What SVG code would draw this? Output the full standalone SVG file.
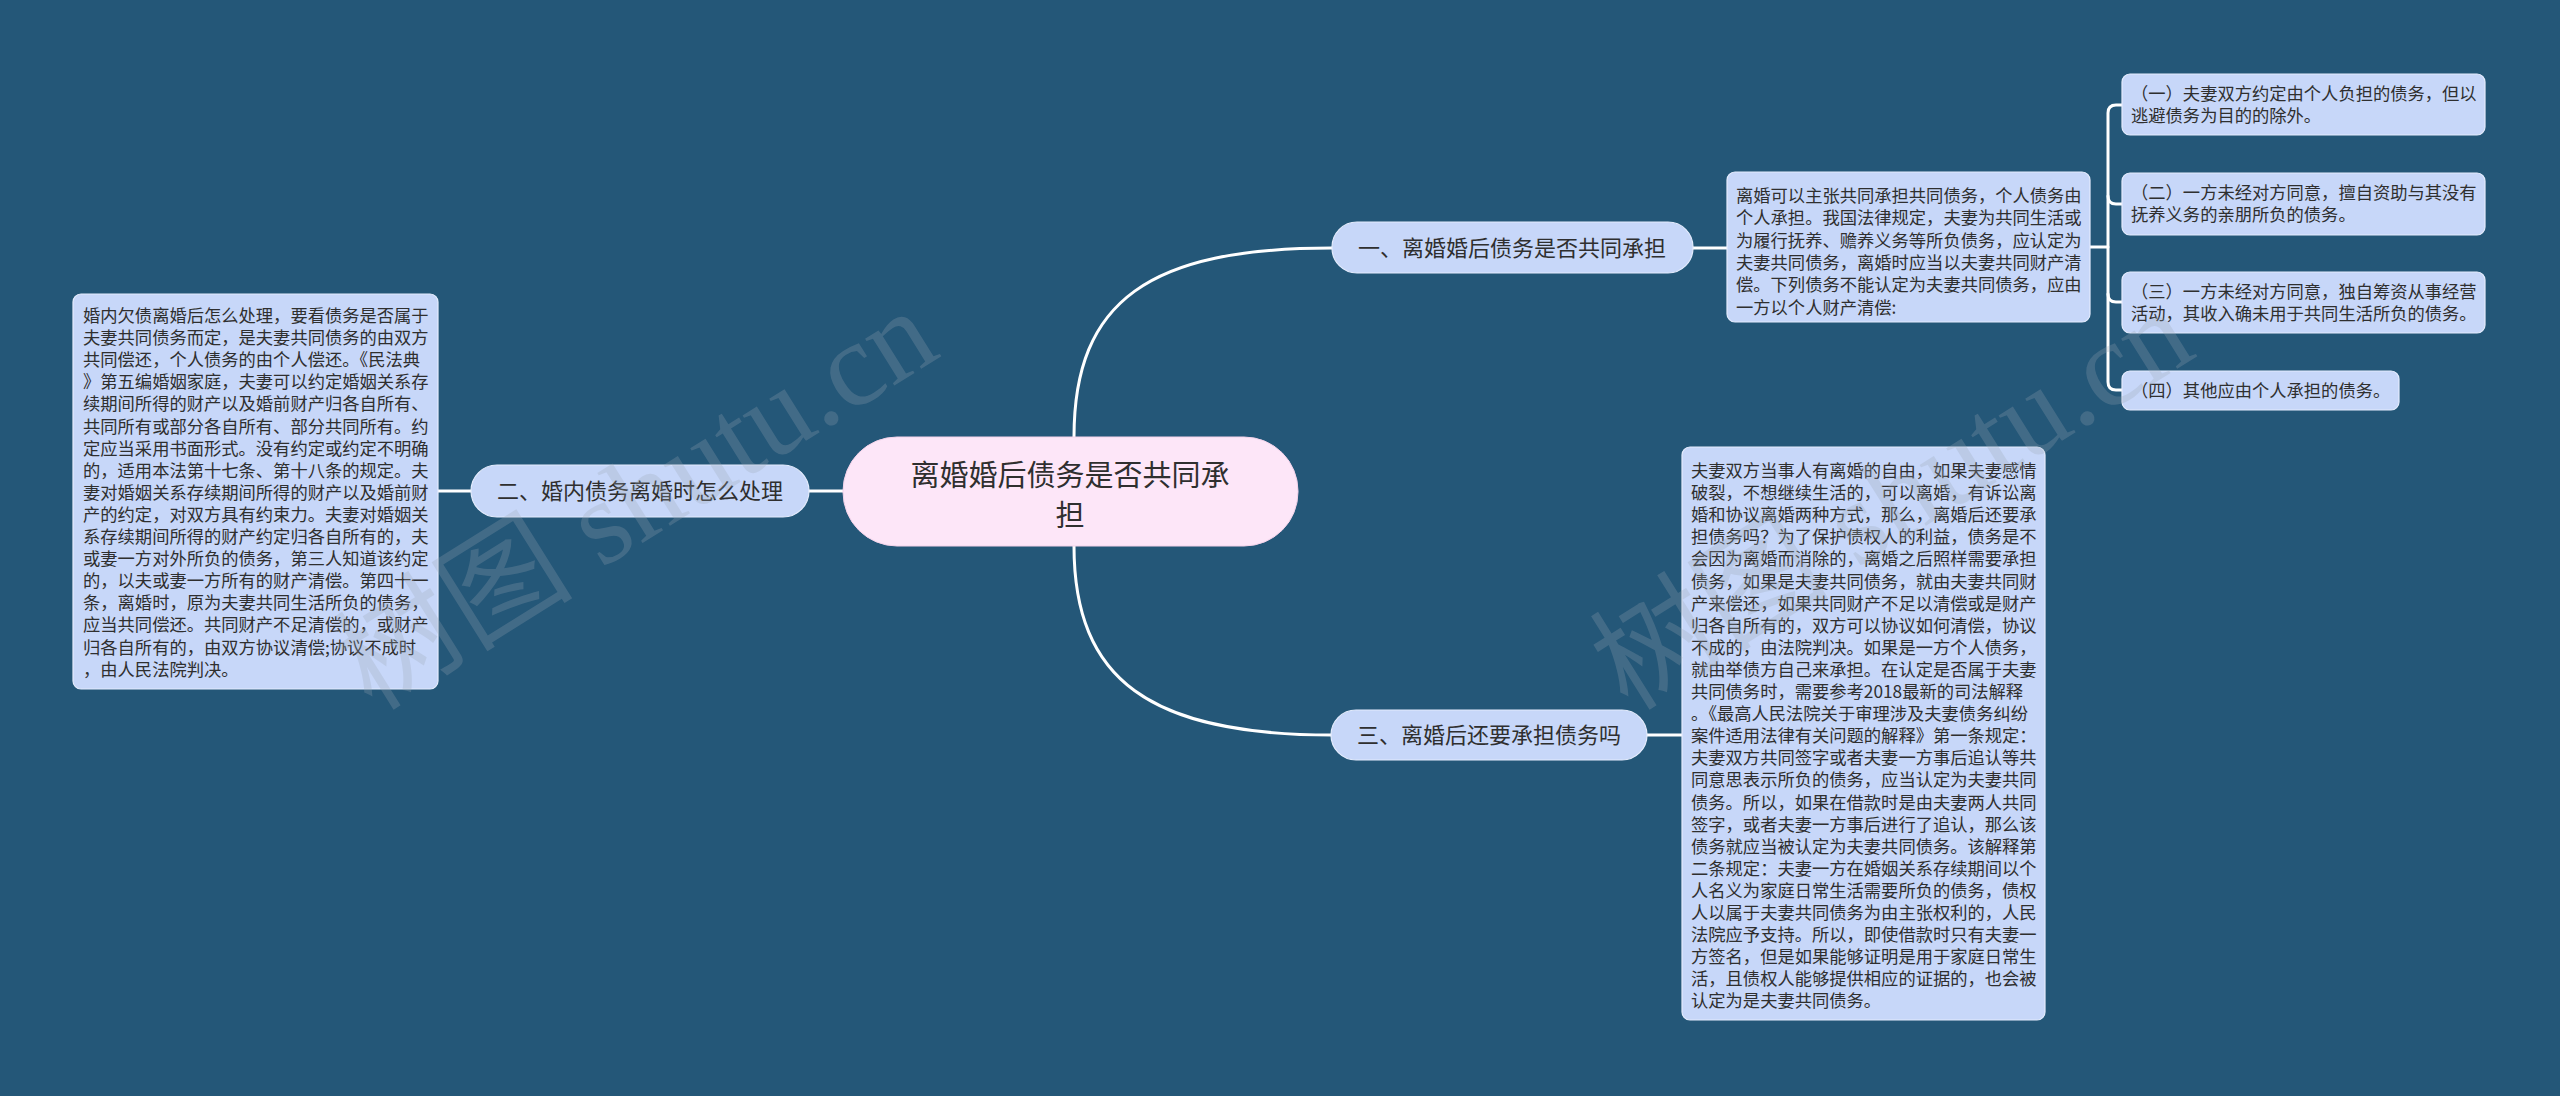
<svg xmlns="http://www.w3.org/2000/svg" width="2560" height="1096" viewBox="0 0 2560 1096">
<style>
.bg{fill:#245778}
.node{fill:#c7d7f9;stroke:#e4ecfd;stroke-width:1.2}
.root{fill:#fde6f8;stroke:#f3d3ea;stroke-width:1}
.conn{fill:none;stroke:#ffffff;stroke-width:3;stroke-linecap:round}
.t{font-family:"Noto Sans CJK SC","Noto Sans",sans-serif;fill:#2f2f2f}
.small{font-size:17.3px}
.mid{font-size:22px;text-anchor:middle}
.big{font-size:29px;text-anchor:middle}
.wm{font-family:"Liberation Serif","Noto Sans CJK SC",serif;font-size:120px;fill:#9aa6b4;opacity:0.26}
</style>
<rect class="bg" x="0" y="0" width="2560" height="1096"/>

<g id="connectors">
  <path class="conn" d="M1074,437 C1074,300 1150,248 1332,248"/>
  <path class="conn" d="M1074,546 C1074,680 1150,735 1332,735"/>
  <path class="conn" d="M843,491 H809"/>
  <path class="conn" d="M471,491 H438"/>
  <path class="conn" d="M1693,248 H1727"/>
  <path class="conn" d="M1647,735 H1682"/>
  <path class="conn" d="M2090,247 H2108"/>
  <path class="conn" d="M2122,105 H2116 Q2108,105 2108,113 V382 Q2108,390 2116,390 H2122"/>
  <path class="conn" d="M2108,196 Q2108,204 2116,204 H2122"/>
  <path class="conn" d="M2108,294 Q2108,302 2116,302 H2122"/>
</g>

<g id="root">
  <rect class="root" x="843" y="437" width="455" height="109" rx="54"/>
  <text class="t big" x="1070" y="486">离婚婚后债务是否共同承</text>
  <text class="t big" x="1070" y="526">担</text>
</g>

<g id="branch1">
  <rect class="node" x="1332" y="222" width="361" height="51" rx="25"/>
  <text class="t mid" x="1512" y="256">一、离婚婚后债务是否共同承担</text>
</g>

<g id="branch2">
  <rect class="node" x="471" y="465" width="338" height="52" rx="26"/>
  <text class="t mid" x="640" y="499">二、婚内债务离婚时怎么处理</text>
</g>

<g id="branch3">
  <rect class="node" x="1331" y="710" width="316" height="50" rx="25"/>
  <text class="t mid" x="1489" y="743">三、离婚后还要承担债务吗</text>
</g>

<g id="leftText">
  <rect class="node" x="73" y="294" width="365" height="395" rx="8"/>
  <text class="t small" x="83" y="322">
    <tspan x="83">婚内欠债离婚后怎么处理，要看债务是否属于</tspan>
    <tspan x="83" dy="22.1">夫妻共同债务而定，是夫妻共同债务的由双方</tspan>
    <tspan x="83" dy="22.1">共同偿还，个人债务的由个人偿还。《民法典</tspan>
    <tspan x="83" dy="22.1">》第五编婚姻家庭，夫妻可以约定婚姻关系存</tspan>
    <tspan x="83" dy="22.1">续期间所得的财产以及婚前财产归各自所有、</tspan>
    <tspan x="83" dy="22.1">共同所有或部分各自所有、部分共同所有。约</tspan>
    <tspan x="83" dy="22.1">定应当采用书面形式。没有约定或约定不明确</tspan>
    <tspan x="83" dy="22.1">的，适用本法第十七条、第十八条的规定。夫</tspan>
    <tspan x="83" dy="22.1">妻对婚姻关系存续期间所得的财产以及婚前财</tspan>
    <tspan x="83" dy="22.1">产的约定，对双方具有约束力。夫妻对婚姻关</tspan>
    <tspan x="83" dy="22.1">系存续期间所得的财产约定归各自所有的，夫</tspan>
    <tspan x="83" dy="22.1">或妻一方对外所负的债务，第三人知道该约定</tspan>
    <tspan x="83" dy="22.1">的，以夫或妻一方所有的财产清偿。第四十一</tspan>
    <tspan x="83" dy="22.1">条，离婚时，原为夫妻共同生活所负的债务，</tspan>
    <tspan x="83" dy="22.1">应当共同偿还。共同财产不足清偿的，或财产</tspan>
    <tspan x="83" dy="22.1">归各自所有的，由双方协议清偿;协议不成时</tspan>
    <tspan x="83" dy="22.1">，由人民法院判决。</tspan>
  </text>
</g>

<g id="rightTopText">
  <rect class="node" x="1727" y="172" width="363" height="150" rx="8"/>
  <text class="t small" x="1736" y="202">
    <tspan x="1736">离婚可以主张共同承担共同债务，个人债务由</tspan>
    <tspan x="1736" dy="22.3">个人承担。我国法律规定，夫妻为共同生活或</tspan>
    <tspan x="1736" dy="22.3">为履行抚养、赡养义务等所负债务，应认定为</tspan>
    <tspan x="1736" dy="22.3">夫妻共同债务，离婚时应当以夫妻共同财产清</tspan>
    <tspan x="1736" dy="22.3">偿。下列债务不能认定为夫妻共同债务，应由</tspan>
    <tspan x="1736" dy="22.3">一方以个人财产清偿:</tspan>
  </text>
</g>

<g id="sub1">
  <rect class="node" x="2122" y="74" width="363" height="61" rx="8"/>
  <text class="t small" x="2131" y="99.8"><tspan x="2131">（一）夫妻双方约定由个人负担的债务，但以</tspan><tspan x="2131" dy="22">逃避债务为目的的除外。</tspan></text>
</g>
<g id="sub2">
  <rect class="node" x="2122" y="173" width="363" height="62" rx="8"/>
  <text class="t small" x="2131" y="199.3"><tspan x="2131">（二）一方未经对方同意，擅自资助与其没有</tspan><tspan x="2131" dy="22">抚养义务的亲朋所负的债务。</tspan></text>
</g>
<g id="sub3">
  <rect class="node" x="2122" y="272" width="363" height="61" rx="8"/>
  <text class="t small" x="2131" y="297.8"><tspan x="2131">（三）一方未经对方同意，独自筹资从事经营</tspan><tspan x="2131" dy="22">活动，其收入确未用于共同生活所负的债务。</tspan></text>
</g>
<g id="sub4">
  <rect class="node" x="2122" y="371" width="277" height="39" rx="8"/>
  <text class="t small" x="2131" y="396.8">（四）其他应由个人承担的债务。</text>
</g>

<g id="bigText">
  <rect class="node" x="1682" y="447" width="363" height="573" rx="8"/>
  <text class="t small" x="1691" y="477">
    <tspan x="1691">夫妻双方当事人有离婚的自由，如果夫妻感情</tspan>
    <tspan x="1691" dy="22.1">破裂，不想继续生活的，可以离婚，有诉讼离</tspan>
    <tspan x="1691" dy="22.1">婚和协议离婚两种方式，那么，离婚后还要承</tspan>
    <tspan x="1691" dy="22.1">担债务吗？为了保护债权人的利益，债务是不</tspan>
    <tspan x="1691" dy="22.1">会因为离婚而消除的，离婚之后照样需要承担</tspan>
    <tspan x="1691" dy="22.1">债务，如果是夫妻共同债务，就由夫妻共同财</tspan>
    <tspan x="1691" dy="22.1">产来偿还，如果共同财产不足以清偿或是财产</tspan>
    <tspan x="1691" dy="22.1">归各自所有的，双方可以协议如何清偿，协议</tspan>
    <tspan x="1691" dy="22.1">不成的，由法院判决。如果是一方个人债务，</tspan>
    <tspan x="1691" dy="22.1">就由举债方自己来承担。在认定是否属于夫妻</tspan>
    <tspan x="1691" dy="22.1">共同债务时，需要参考2018最新的司法解释</tspan>
    <tspan x="1691" dy="22.1">。《最高人民法院关于审理涉及夫妻债务纠纷</tspan>
    <tspan x="1691" dy="22.1">案件适用法律有关问题的解释》第一条规定：</tspan>
    <tspan x="1691" dy="22.1">夫妻双方共同签字或者夫妻一方事后追认等共</tspan>
    <tspan x="1691" dy="22.1">同意思表示所负的债务，应当认定为夫妻共同</tspan>
    <tspan x="1691" dy="22.1">债务。所以，如果在借款时是由夫妻两人共同</tspan>
    <tspan x="1691" dy="22.1">签字，或者夫妻一方事后进行了追认，那么该</tspan>
    <tspan x="1691" dy="22.1">债务就应当被认定为夫妻共同债务。该解释第</tspan>
    <tspan x="1691" dy="22.1">二条规定：夫妻一方在婚姻关系存续期间以个</tspan>
    <tspan x="1691" dy="22.1">人名义为家庭日常生活需要所负的债务，债权</tspan>
    <tspan x="1691" dy="22.1">人以属于夫妻共同债务为由主张权利的，人民</tspan>
    <tspan x="1691" dy="22.1">法院应予支持。所以，即使借款时只有夫妻一</tspan>
    <tspan x="1691" dy="22.1">方签名，但是如果能够证明是用于家庭日常生</tspan>
    <tspan x="1691" dy="22.1">活，且债权人能够提供相应的证据的，也会被</tspan>
    <tspan x="1691" dy="22.1">认定为是夫妻共同债务。</tspan>
  </text>
</g>

<g id="watermarks">
  <text class="wm" transform="translate(372,712) rotate(-32)">树图 shutu.cn</text>
  <text class="wm" transform="translate(1628,712) rotate(-32)">树图 shutu.cn</text>
</g>
</svg>
